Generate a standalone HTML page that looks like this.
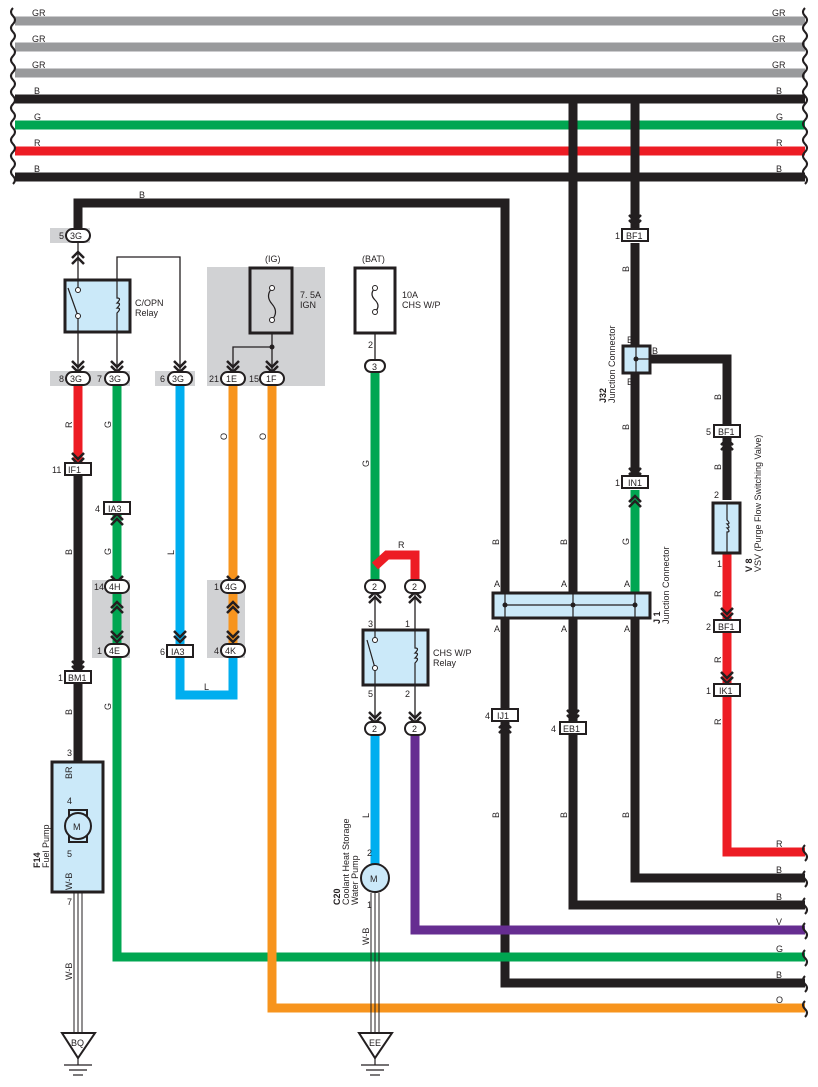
<!DOCTYPE html>
<html><head><meta charset="utf-8"><style>
html,body{margin:0;padding:0;background:#fff}
svg{display:block}
text{font-family:"Liberation Sans",sans-serif;font-size:9px;fill:#231f20}
</style></head><body>
<svg width="818" height="1087" viewBox="0 0 818 1087" xmlns="http://www.w3.org/2000/svg">
<!-- gray bands -->
<g fill="#d1d2d4">
<rect x="50" y="228" width="40" height="15"/>
<rect x="50" y="371" width="80" height="15"/>
<rect x="155" y="371" width="40" height="15"/>
<rect x="207" y="267" width="118" height="119"/>
<rect x="92" y="580" width="38" height="78"/>
<rect x="207" y="580" width="38" height="78"/>
</g>
<!-- top bus -->
<g stroke-width="9" fill="none">
<line x1="15" y1="21" x2="805" y2="21" stroke="#999a9c"/>
<line x1="15" y1="47" x2="805" y2="47" stroke="#999a9c"/>
<line x1="15" y1="73" x2="805" y2="73" stroke="#999a9c"/>
<line x1="15" y1="99" x2="805" y2="99" stroke="#231f20"/>
<line x1="15" y1="125" x2="805" y2="125" stroke="#00a651"/>
<line x1="15" y1="151" x2="805" y2="151" stroke="#ed1c24"/>
<line x1="15" y1="177" x2="805" y2="177" stroke="#231f20"/>
<!-- verticals from bus -->
<polyline points="568,99 573,99 573,905 805,905" stroke="#231f20"/>
<polyline points="635,99 635,228" stroke="#231f20"/>
<line x1="635" y1="243" x2="635" y2="478" stroke="#231f20"/>
<line x1="635" y1="490" x2="635" y2="600" stroke="#00a651"/>
<polyline points="635,610 635,878 805,878" stroke="#231f20"/>
<polyline points="640,359 727,359 727,500" stroke="#231f20"/>
<polyline points="727,553 727,852 805,852" stroke="#ed1c24"/>
<!-- B loop from 3G -->
<polyline points="78,232 78,203 505,203 505,983 805,983" stroke="#231f20"/>
<!-- left column -->
<line x1="78" y1="386" x2="78" y2="462" stroke="#ed1c24"/>
<line x1="78" y1="470" x2="78" y2="790" stroke="#231f20"/>
<line x1="78" y1="762" x2="78" y2="810" stroke="#a65a3a"/>
<polyline points="117,386 117,957 805,957" stroke="#00a651"/>
<polyline points="180,386 180,695 233,695 233,658" stroke="#00aeef"/>
<line x1="233" y1="386" x2="233" y2="658" stroke="#f7941d"/>
<polyline points="272,386 272,1008 805,1008" stroke="#f7941d"/>
<line x1="375" y1="372" x2="375" y2="580" stroke="#00a651"/>
<polyline points="375,566 387,555 415,555 415,580" stroke="#ed1c24"/>
<line x1="375" y1="735" x2="375" y2="866" stroke="#00aeef"/>
<polyline points="415,735 415,930 805,930" stroke="#662d91"/>
</g>
<!-- W-B double lines -->
<g stroke="#231f20" stroke-width="1" fill="none">
<line x1="74" y1="842" x2="74" y2="1033"/><line x1="78" y1="842" x2="78" y2="1033"/><line x1="82" y1="842" x2="82" y2="1033"/>
<line x1="371" y1="893" x2="371" y2="1033"/><line x1="375" y1="893" x2="375" y2="1033"/><line x1="379" y1="893" x2="379" y2="1033"/>
</g>
<!-- wavy breaks -->
<g stroke="#231f20" stroke-width="2" fill="none">
<path d="M13 8 q-4 4 0 8 q4 4 0 8 q-4 4 0 8 q4 4 0 8 q-4 4 0 8 q4 4 0 8 q-4 4 0 8 q4 4 0 8 q-4 4 0 8 q4 4 0 8 q-4 4 0 8 q4 4 0 8 q-4 4 0 8 q4 4 0 8 q-4 4 0 8 q4 4 0 8 q-4 4 0 8 q4 4 0 8 q-4 4 0 8 q4 4 0 8 q-4 4 0 8 q4 4 0 8"/>
<path d="M805 8 q-4 4 0 8 q4 4 0 8 q-4 4 0 8 q4 4 0 8 q-4 4 0 8 q4 4 0 8 q-4 4 0 8 q4 4 0 8 q-4 4 0 8 q4 4 0 8 q-4 4 0 8 q4 4 0 8 q-4 4 0 8 q4 4 0 8 q-4 4 0 8 q4 4 0 8 q-4 4 0 8 q4 4 0 8 q-4 4 0 8 q4 4 0 8 q-4 4 0 8 q4 4 0 8"/>
<path d="M805 845 q-4 4 0 8 q4 4 0 8 M805 871 q-4 4 0 8 q4 4 0 8 M805 898 q-4 4 0 8 q4 4 0 8 M805 923 q-4 4 0 8 q4 4 0 8 M805 950 q-4 4 0 8 q4 4 0 8 M805 976 q-4 4 0 8 q4 4 0 8 M805 1001 q-4 4 0 8 q4 4 0 8"/>
</g>
<!-- thin lines -->
<g stroke="#231f20" stroke-width="1.3" fill="none">
<line x1="78" y1="243" x2="78" y2="372"/>
<polyline points="117,372 117,257 180,257 180,372"/>
<line x1="272" y1="333" x2="272" y2="372"/>
<polyline points="272,347 233,347 233,372"/>
<line x1="375" y1="333" x2="375" y2="360"/>
<line x1="375" y1="592" x2="375" y2="722"/>
<line x1="415" y1="592" x2="415" y2="722"/>
</g>
<circle cx="272" cy="347" r="2.5" fill="#231f20"/>
<!-- boxes -->
<g stroke="#231f20" stroke-width="3" fill="#cbe9f9">
<rect x="65" y="280" width="65" height="52"/>
<rect x="363" y="630" width="65" height="55"/>
<rect x="493" y="593" width="157" height="25"/>
<rect x="623" y="346" width="27" height="27"/>
<rect x="713" y="503" width="27" height="50"/>
<rect x="52" y="762" width="51" height="130"/>
<rect x="250" y="268" width="42" height="65" fill="#d1d2d4"/>
<rect x="355" y="268" width="40" height="65" fill="#fff"/>
</g>
<!-- box internals -->
<g stroke="#231f20" stroke-width="1.2" fill="none">
<line x1="78" y1="280" x2="78" y2="290"/><line x1="78" y1="316" x2="78" y2="332"/>
<line x1="68" y1="288" x2="78" y2="316"/>
<path d="M117 280 V298 q5 0 0 5 q5 0 0 5 q5 0 0 5 V332"/>
<line x1="375" y1="630" x2="375" y2="640"/><line x1="375" y1="670" x2="375" y2="685"/>
<line x1="367" y1="640" x2="375" y2="668"/>
<path d="M415 630 V648 q5 0 0 5 q5 0 0 5 q5 0 0 5 V685"/>
<line x1="505" y1="605" x2="635" y2="605"/>
<line x1="505" y1="593" x2="505" y2="618"/><line x1="573" y1="593" x2="573" y2="618"/><line x1="635" y1="593" x2="635" y2="618"/>
<line x1="636" y1="346" x2="636" y2="373"/><line x1="636" y1="359" x2="650" y2="359"/>
<path d="M727 503 V520 q4 4 0 4 q4 4 0 4 q4 4 0 4 V553"/>
<path d="M272 288 q-7 8 0 16 q7 8 0 16"/>
<path d="M375 288 q-6 6 0 12 q6 6 0 12"/>
</g>
<g fill="#fff" stroke="#231f20" stroke-width="1">
<circle cx="78" cy="290" r="2.5"/><circle cx="78" cy="316" r="2.5"/>
<circle cx="375" cy="640" r="2.5"/><circle cx="375" cy="668" r="2.5"/>
<circle cx="272" cy="288" r="2.5"/><circle cx="272" cy="320" r="2.5"/>
<circle cx="375" cy="288" r="2.5"/><circle cx="375" cy="312" r="2.5"/>
</g>
<g fill="#231f20"><circle cx="505" cy="605" r="2.5"/><circle cx="573" cy="605" r="2.5"/><circle cx="635" cy="605" r="2.5"/><circle cx="636" cy="359" r="2.5"/></g>
<!-- motors -->
<g stroke="#231f20" stroke-width="2" fill="#cbe9f9">
<rect x="69" y="810" width="18" height="6"/><rect x="69" y="836" width="18" height="6"/>
<circle cx="78" cy="826" r="13"/>
<circle cx="375" cy="878" r="14" fill="#cbe9f9"/>
</g>
<text x="73" y="830">M</text><text x="370" y="882">M</text>
<!-- ground -->
<g stroke="#231f20" stroke-width="2" fill="#fff">
<path d="M62 1033 H95 L78 1058 Z"/><path d="M359 1033 H392 L375 1058 Z"/>
</g>
<g stroke="#231f20" stroke-width="1.2">
<line x1="78" y1="1058" x2="78" y2="1065"/><line x1="64" y1="1065" x2="92" y2="1065"/><line x1="69" y1="1070" x2="87" y2="1070"/><line x1="73" y1="1075" x2="83" y2="1075"/>
<line x1="375" y1="1058" x2="375" y2="1065"/><line x1="361" y1="1065" x2="389" y2="1065"/><line x1="366" y1="1070" x2="384" y2="1070"/><line x1="370" y1="1075" x2="380" y2="1075"/>
</g>
<text x="71" y="1046">BQ</text><text x="369" y="1046">EE</text>
<!-- chevrons (down) -->
<g stroke="#231f20" stroke-width="2.5" fill="none">
<path d="M72 252l6 6 6-6M72 258l6 6 6-6" transform="rotate(180 78 258)"/>
<path d="M72 361l6 6 6-6M72 366l6 6 6-6"/>
<path d="M111 361l6 6 6-6M111 366l6 6 6-6"/>
<path d="M174 361l6 6 6-6M174 366l6 6 6-6"/>
<path d="M227 361l6 6 6-6M227 366l6 6 6-6"/>
<path d="M266 361l6 6 6-6M266 366l6 6 6-6"/>
<path d="M72 453l6 6 6-6M72 458l6 6 6-6"/>
<path d="M111 520l6-6 6 6M111 525l6-6 6 6"/>
<path d="M111 576l6 6 6-6M111 581l6 6 6-6"/>
<path d="M111 608l6-6 6 6M111 613l6-6 6 6"/>
<path d="M111 631l6 6 6-6M111 636l6 6 6-6"/>
<path d="M227 576l6 6 6-6M227 581l6 6 6-6"/>
<path d="M227 608l6-6 6 6M227 613l6-6 6 6"/>
<path d="M227 631l6 6 6-6M227 636l6 6 6-6"/>
<path d="M174 631l6 6 6-6M174 636l6 6 6-6" transform="rotate(0)"/>
<path d="M72 661l6 6 6-6M72 666l6 6 6-6"/>
<path d="M369 598l6-6 6 6M369 603l6-6 6 6"/>
<path d="M409 598l6-6 6 6M409 603l6-6 6 6"/>
<path d="M369 712l6 6 6-6M369 717l6 6 6-6"/>
<path d="M409 712l6 6 6-6M409 717l6 6 6-6"/>
<path d="M629 215l6 6 6-6M629 220l6 6 6-6"/>
<path d="M629 468l6 6 6-6M629 473l6 6 6-6"/>
<path d="M629 502l6-6 6 6M629 507l6-6 6 6"/>
<path d="M721 445l6-6 6 6M721 450l6-6 6 6"/>
<path d="M721 608l6 6 6-6M721 613l6 6 6-6"/>
<path d="M721 672l6 6 6-6M721 677l6 6 6-6"/>
<path d="M499 728l6-6 6 6M499 733l6-6 6 6"/>
<path d="M567 710l6 6 6-6M567 715l6 6 6-6"/>
</g>
<!-- oval connectors -->
<g stroke="#231f20" stroke-width="2" fill="#fff">
<rect x="66" y="229" width="24" height="13" rx="6.5"/>
<rect x="66" y="372" width="24" height="13" rx="6.5"/>
<rect x="105" y="372" width="24" height="13" rx="6.5"/>
<rect x="168" y="372" width="24" height="13" rx="6.5"/>
<rect x="221" y="372" width="24" height="13" rx="6.5"/>
<rect x="260" y="372" width="24" height="13" rx="6.5"/>
<rect x="105" y="580" width="24" height="13" rx="6.5"/>
<rect x="105" y="644" width="24" height="13" rx="6.5"/>
<rect x="221" y="580" width="24" height="13" rx="6.5"/>
<rect x="221" y="644" width="24" height="13" rx="6.5"/>
<rect x="365" y="360" width="20" height="12" rx="6"/>
<rect x="365" y="580" width="20" height="13" rx="6.5"/>
<rect x="405" y="580" width="20" height="13" rx="6.5"/>
<rect x="365" y="722" width="20" height="13" rx="6.5"/>
<rect x="405" y="722" width="20" height="13" rx="6.5"/>
</g>
<!-- rect connectors -->
<g stroke="#231f20" stroke-width="2" fill="#fff">
<rect x="65" y="463" width="26" height="12"/>
<rect x="104" y="502" width="26" height="12"/>
<rect x="65" y="671" width="26" height="12"/>
<rect x="167" y="645" width="26" height="12"/>
<rect x="622" y="229" width="26" height="12"/>
<rect x="622" y="476" width="26" height="12"/>
<rect x="714" y="425" width="26" height="12"/>
<rect x="714" y="620" width="26" height="12"/>
<rect x="714" y="684" width="26" height="12"/>
<rect x="492" y="709" width="26" height="12"/>
<rect x="560" y="722" width="26" height="12"/>
</g>
<g>
<text x="70" y="239">3G</text><text x="59" y="239">5</text>
<text x="70" y="382">3G</text><text x="59" y="382">8</text>
<text x="109" y="382">3G</text><text x="97" y="382">7</text>
<text x="172" y="382">3G</text><text x="160" y="382">6</text>
<text x="226" y="382">1E</text><text x="209" y="382">21</text>
<text x="266" y="382">1F</text><text x="249" y="382">15</text>
<text x="109" y="590">4H</text><text x="94" y="590">14</text>
<text x="109" y="654">4E</text><text x="97" y="654">1</text>
<text x="225" y="590">4G</text><text x="214" y="590">1</text>
<text x="225" y="654">4K</text><text x="214" y="654">4</text>
<text x="372" y="370">3</text><text x="368" y="348">2</text>
<text x="372" y="590">2</text><text x="412" y="590">2</text>
<text x="372" y="732">2</text><text x="412" y="732">2</text>
<text x="68" y="473">IF1</text><text x="52" y="473">11</text>
<text x="108" y="512">IA3</text><text x="95" y="512">4</text>
<text x="68" y="681">BM1</text><text x="58" y="681">1</text>
<text x="171" y="655">IA3</text><text x="160" y="655">6</text>
<text x="626" y="239">BF1</text><text x="615" y="239">1</text>
<text x="628" y="486">IN1</text><text x="615" y="486">1</text>
<text x="718" y="435">BF1</text><text x="706" y="435">5</text>
<text x="718" y="630">BF1</text><text x="706" y="630">2</text>
<text x="719" y="694">IK1</text><text x="706" y="694">1</text>
<text x="497" y="719">IJ1</text><text x="485" y="719">4</text>
<text x="563" y="732">EB1</text><text x="551" y="732">4</text>
<!-- bus labels -->
<text x="32" y="16">GR</text><text x="32" y="42">GR</text><text x="32" y="68">GR</text>
<text x="34" y="94">B</text><text x="34" y="120">G</text><text x="34" y="146">R</text><text x="34" y="172">B</text>
<text x="772" y="16">GR</text><text x="772" y="42">GR</text><text x="772" y="68">GR</text>
<text x="776" y="94">B</text><text x="776" y="120">G</text><text x="776" y="146">R</text><text x="776" y="172">B</text>
<text x="776" y="847">R</text><text x="776" y="873">B</text><text x="776" y="900">B</text><text x="776" y="925">V</text><text x="776" y="952">G</text><text x="776" y="978">B</text><text x="776" y="1003">O</text>
<text x="139" y="198">B</text>
<text x="135" y="306">C/OPN</text><text x="135" y="316">Relay</text>
<text x="265" y="262">(IG)</text>
<text x="300" y="298">7. 5A</text><text x="300" y="308">IGN</text>
<text x="362" y="262">(BAT)</text>
<text x="402" y="298">10A</text><text x="402" y="308">CHS W/P</text>
<text x="398" y="548">R</text>
<text x="368" y="627">3</text><text x="405" y="627">1</text>
<text x="368" y="697">5</text><text x="405" y="697">2</text>
<text x="433" y="656">CHS W/P</text><text x="433" y="666">Relay</text>
<text x="494" y="587">A</text><text x="561" y="587">A</text><text x="624" y="587">A</text>
<text x="494" y="632">A</text><text x="561" y="632">A</text><text x="624" y="632">A</text>
<text x="627" y="343">B</text><text x="652" y="354">B</text><text x="627" y="385">B</text>
<text x="714" y="498">2</text><text x="717" y="567">1</text>
<text x="67" y="756">3</text><text x="67" y="804">4</text><text x="67" y="857">5</text><text x="67" y="905">7</text>
<text x="367" y="856">2</text><text x="367" y="908">1</text>
</g>
<!-- rotated labels -->
<g>
<text transform="translate(72,428) rotate(-90)">R</text>
<text transform="translate(111,428) rotate(-90)">G</text>
<text transform="translate(111,555) rotate(-90)">G</text>
<text transform="translate(72,555) rotate(-90)">B</text>
<text transform="translate(72,715) rotate(-90)">B</text>
<text transform="translate(111,710) rotate(-90)">G</text>
<text transform="translate(174,555) rotate(-90)">L</text>
<text transform="translate(227,440) rotate(-90)">O</text>
<text transform="translate(266,440) rotate(-90)">O</text>
<text x="204" y="690">L</text>
<text transform="translate(369,467) rotate(-90)">G</text>
<text transform="translate(369,818) rotate(-90)">L</text>
<text transform="translate(499,545) rotate(-90)">B</text>
<text transform="translate(567,545) rotate(-90)">B</text>
<text transform="translate(629,545) rotate(-90)">G</text>
<text transform="translate(499,818) rotate(-90)">B</text>
<text transform="translate(567,818) rotate(-90)">B</text>
<text transform="translate(629,818) rotate(-90)">B</text>
<text transform="translate(629,272) rotate(-90)">B</text>
<text transform="translate(629,430) rotate(-90)">B</text>
<text transform="translate(721,400) rotate(-90)">B</text>
<text transform="translate(721,470) rotate(-90)">B</text>
<text transform="translate(721,597) rotate(-90)">R</text>
<text transform="translate(721,663) rotate(-90)">R</text>
<text transform="translate(721,725) rotate(-90)">R</text>
<text transform="translate(72,779) rotate(-90)">BR</text>
<text transform="translate(72,890) rotate(-90)">W-B</text>
<text transform="translate(72,980) rotate(-90)">W-B</text>
<text transform="translate(369,945) rotate(-90)">W-B</text>
<text transform="translate(40,868) rotate(-90)" font-weight="bold">F14</text>
<text transform="translate(49,868) rotate(-90)">Fuel Pump</text>
<text transform="translate(340,905) rotate(-90)" font-weight="bold">C20</text>
<text transform="translate(349,905) rotate(-90)">Coolant Heat Storage</text>
<text transform="translate(358,905) rotate(-90)">Water Pump</text>
<text transform="translate(606,403) rotate(-90)" font-weight="bold">J32</text>
<text transform="translate(615,403) rotate(-90)">Junction Connector</text>
<text transform="translate(660,624) rotate(-90)" font-weight="bold">J 1</text>
<text transform="translate(669,624) rotate(-90)">Junction Connector</text>
<text transform="translate(752,572) rotate(-90)" font-weight="bold">V 8</text>
<text transform="translate(761,572) rotate(-90)">VSV (Purge Flow Switching Valve)</text>
</g>
</svg>
</body></html>
